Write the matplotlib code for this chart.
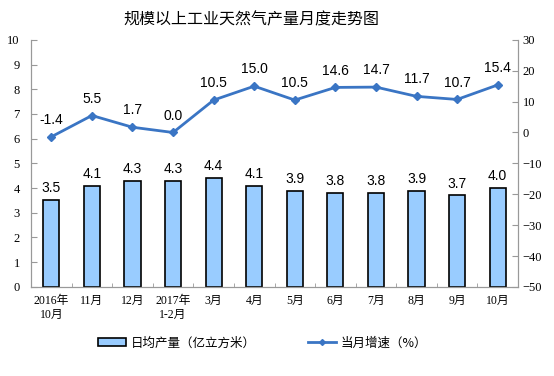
import matplotlib.pyplot as plt
import numpy as np
from matplotlib.lines import Line2D
from matplotlib.patches import Patch

plt.rcParams['font.family'] = ['Liberation Sans', 'Noto Sans CJK SC']

months = ['2016年\n10月', '11月', '12月', '2017年\n1-2月', '3月', '4月',
          '5月', '6月', '7月', '8月', '9月', '10月']
daily_output = [3.5, 4.1, 4.3, 4.3, 4.4, 4.1, 3.9, 3.8, 3.8, 3.9, 3.7, 4.0]
growth = [-1.4, 5.5, 1.7, 0.0, 10.5, 15.0, 10.5, 14.6, 14.7, 11.7, 10.7, 15.4]

serif = ['Liberation Serif', 'Noto Sans CJK SC']
bar_color = '#99ccff'
line_color = '#3a75c4'
spine_color = '#999999'

fig = plt.figure(figsize=(5.54, 3.76), dpi=100)
ax = fig.add_axes([0.056, 0.237, 0.879, 0.657])
ax2 = ax.twinx()

x = np.arange(len(months))
ax.bar(x, daily_output, width=0.4, color=bar_color, edgecolor='black', linewidth=1.2, zorder=2)
for xi, v in zip(x, daily_output):
    ax.text(xi, v + 0.2, f'{v:.1f}', ha='center', va='bottom', fontsize=10)

ax.set_ylim(0, 10)
ax.set_yticks(range(0, 11))
ax.set_xlim(-0.5, len(months) - 0.5)
ax.set_xticks(x)
ax.set_xticklabels(months, fontsize=8.5, family=serif, linespacing=1.15)
ax.set_xticks(np.arange(-0.5, len(months), 1), minor=True)
ax.tick_params(axis='x', which='major', length=0, pad=6)
ax.tick_params(axis='x', which='minor', length=3, direction='in', color=spine_color)
ax.tick_params(axis='y', direction='in', length=4, color=spine_color, labelsize=9, pad=8)
for lbl in ax.get_yticklabels():
    lbl.set_family(serif)

ax2.plot(x, growth, color=line_color, linewidth=2, marker='D', markersize=4, zorder=3)
for xi, v in zip(x, growth):
    ax2.text(xi, v + 3.2, f'{v:.1f}', ha='center', va='bottom', fontsize=10)
ax2.set_ylim(-50, 30)
ax2.set_yticks(range(-50, 31, 10))
ax2.tick_params(axis='y', direction='in', length=4, color=spine_color, labelsize=9)
for lbl in ax2.get_yticklabels():
    lbl.set_family(serif)

for a in (ax, ax2):
    a.spines['top'].set_visible(False)
    for s in ('left', 'right', 'bottom'):
        a.spines[s].set_color(spine_color)

fig.text(0.453, 0.947, '规模以上工业天然气产量月度走势图', ha='center', va='center',
         fontsize=11.5, fontweight='medium', family=['Noto Sans CJK SC'])

handles = [Patch(facecolor=bar_color, edgecolor='black', linewidth=1.2),
           Line2D([0], [0], color=line_color, linewidth=2, marker='D', markersize=3)]
fig.legend(handles, ['日均产量（亿立方米）', '当月增速（%）'], loc='center',
           bbox_to_anchor=(0.474, 0.088), ncol=2, frameon=False,
           columnspacing=4.2, handlelength=2.2, handletextpad=0.4,
           prop={'family': ['Noto Sans CJK SC'], 'size': 9})

fig.savefig('out.png', dpi=100)
